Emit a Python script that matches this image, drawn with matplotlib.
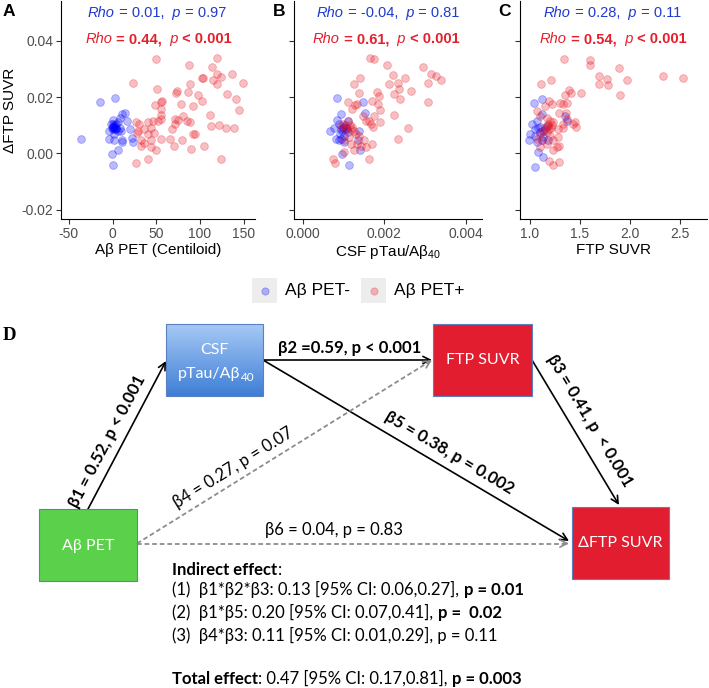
import matplotlib.pyplot as plt
import numpy as np
from matplotlib.colors import LinearSegmentedColormap
from matplotlib.patches import Rectangle

plt.rcParams["font.family"] = ["Liberation Sans", "DejaVu Sans"]
plt.rcParams["mathtext.fontset"] = "custom"
plt.rcParams["mathtext.rm"] = "Liberation Sans"
plt.rcParams["axes.unicode_minus"] = False

# ---- panel A: amyloid PET (centiloid) vs delta FTP SUVR ----
a_neg_x = [-14, 3, 14, 10.5, 16, 8, 0, -2, 2, 4, 6, 0, 8, -4, 2, 10, 20, -36, -4, 2,
           10.5, 11, 22, 23, 6.5, -0.5, 1, 4, 6.5, 1, 3, 2, 0, 4, 1, 3, -1]
a_neg_y = [0.0184, 0.0196, 0.0145, 0.0139, 0.0116, 0.0125, 0.0120, 0.0104, 0.0098, 0.0090,
           0.0081, 0.0087, 0.0090, 0.0081, 0.0069, 0.0078, 0.0087, 0.0050, 0.0052, 0.0048,
           0.0046, 0.0040, 0.0055, 0.0042, 0.0013, -0.0001, -0.0041, 0.0104, 0.0110, 0.0095,
           0.0100, 0.0092, 0.0094, 0.0085, 0.0106, 0.0088, 0.0091]
a_pos_x = [50, 120, 88, 114, 120, 137, 102, 104, 115, 124, 23, 89, 120, 149, 51, 74, 73, 86,
           98, 131, 102, 141, 49, 55, 57, 78, 92, 56, 145, 112, 56, 27, 30, 41, 46, 52, 55,
           72, 75, 81, 85, 89, 71, 68, 29, 36, 44, 113, 122, 130, 139, 28, 41, 47, 56, 92,
           94, 66, 80, 33, 36, 44, 33, 44, 50, 70, 90, 105, 27, 40, 124]
a_pos_y = [0.0336, 0.0338, 0.0315, 0.0307, 0.0280, 0.0280, 0.0268, 0.0266, 0.0262, 0.0270,
           0.0248, 0.0245, 0.0247, 0.0250, 0.0229, 0.0221, 0.0215, 0.0219, 0.0207, 0.0209,
           0.0186, 0.0194, 0.0171, 0.0183, 0.0186, 0.0177, 0.0168, 0.0157, 0.0153, 0.0135,
           0.0137, 0.0110, 0.0104, 0.0113, 0.0116, 0.0116, 0.0122, 0.0122, 0.0118, 0.0133,
           0.0116, 0.0113, 0.0104, 0.0087, 0.0081, 0.0087, 0.0090, 0.0098, 0.0102, 0.0092,
           0.0090, 0.0071, 0.0069, 0.0071, 0.0052, 0.0069, 0.0069, 0.0052, 0.0046, 0.0048,
           0.0036, 0.0046, 0.0025, 0.0022, 0.0011, 0.0027, 0.0016, 0.0025, -0.0034, -0.0020,
           -0.0020]

# ---- panel B: CSF pTau/Abeta40 vs delta FTP SUVR ----
b_neg_x = [0.00085, 0.00147, 0.00153, 0.00094, 0.00084, 0.00088, 0.00111, 0.00100, 0.00067,
           0.00077, 0.00081, 0.00094, 0.00102, 0.00106, 0.00097, 0.00110, 0.00139, 0.00136,
           0.00096, 0.00141, 0.00114, 0.00092, 0.00089, 0.00102, 0.00098, 0.00104, 0.00093,
           0.00108]
b_neg_y = [0.0198, 0.0184, 0.0145, 0.0139, 0.0118, 0.0104, 0.0116, 0.0090, 0.0078, 0.0090,
           0.0052, 0.0052, 0.0040, 0.0092, 0.0081, 0.0075, 0.0078, 0.0046, -0.0001, 0.0011,
           -0.0040, 0.0069, 0.0046, 0.0063, 0.0095, 0.0100, 0.0085, 0.0087]
b_pos_x = [0.00166, 0.00175, 0.00208, 0.00294, 0.00315, 0.00327, 0.00340, 0.00141, 0.00126,
           0.00221, 0.00252, 0.00212, 0.00234, 0.00308, 0.00139, 0.00182, 0.00188, 0.00223,
           0.00237, 0.00239, 0.00266, 0.00307, 0.00111, 0.00128, 0.00134, 0.00121, 0.00169,
           0.00184, 0.00190, 0.00225, 0.00175, 0.00147, 0.00155, 0.00163, 0.00167, 0.00190,
           0.00173, 0.00259, 0.00233, 0.00112, 0.00118, 0.00125, 0.00130, 0.00139, 0.00151,
           0.00155, 0.00170, 0.00143, 0.00118, 0.00102, 0.00114, 0.00094, 0.00100, 0.00075,
           0.00079, 0.00163, 0.00126, 0.00134, 0.00102, 0.00108, 0.00115, 0.00104, 0.00120]
b_pos_y = [0.0338, 0.0335, 0.0315, 0.0307, 0.0280, 0.0274, 0.0262, 0.0268, 0.0247, 0.0277,
           0.0268, 0.0245, 0.0250, 0.0249, 0.0215, 0.0219, 0.0204, 0.0209, 0.0229, 0.0194,
           0.0221, 0.0184, 0.0184, 0.0172, 0.0177, 0.0157, 0.0186, 0.0177, 0.0153, 0.0137,
           0.0133, 0.0133, 0.0116, 0.0116, 0.0106, 0.0111, 0.0095, 0.0090, 0.0050, 0.0116,
           0.0087, 0.0078, 0.0069, 0.0063, 0.0046, 0.0022, 0.0032, 0.0025, 0.0032, 0.0046,
           0.0057, 0.0098, 0.0106, -0.0019, -0.0034, -0.0020, 0.0011, 0.0032, 0.0005, 0.0092,
           0.0100, 0.0085, 0.0095]

# ---- panel C: FTP SUVR vs delta FTP SUVR ----
c_neg_x = [1.04, 1.12, 1.12, 1.07, 1.02, 1.05, 1.00, 1.05, 1.10, 1.15, 0.99, 1.07, 1.12,
           1.08, 1.13, 1.05, 1.35, 1.37, 1.17, 1.13, 1.18, 1.10, 1.13, 1.08]
c_neg_y = [0.0180, 0.0192, 0.0139, 0.0116, 0.0104, 0.0087, 0.0069, 0.0063, 0.0075, 0.0087,
           0.0046, 0.0040, 0.0046, 0.0005, -0.0011, -0.0048, 0.0133, 0.0116, 0.0098, 0.0057,
           0.0046, 0.0095, 0.0080, 0.0090]
c_pos_x = [1.34, 1.60, 1.60, 1.89, 1.69, 1.77, 1.69, 1.78, 1.97, 2.33, 2.53, 1.11, 1.21,
           1.39, 1.41, 1.35, 1.51, 1.90, 1.33, 1.19, 1.22, 1.15, 1.30, 1.37, 1.07, 1.10,
           1.29, 1.36, 1.17, 1.20, 1.23, 1.18, 1.33, 1.43, 1.46, 1.33, 1.28, 1.13, 1.17,
           1.10, 1.20, 1.28, 1.07, 1.12, 1.23, 1.17, 1.10, 1.27, 1.23, 1.29, 1.19, 1.23,
           1.29, 1.37, 1.45, 1.18, 1.21, 1.15, 1.22, 1.19]
c_pos_y = [0.0336, 0.0332, 0.0312, 0.0303, 0.0275, 0.0264, 0.0247, 0.0242, 0.0259, 0.0276,
           0.0268, 0.0245, 0.0262, 0.0224, 0.0215, 0.0207, 0.0213, 0.0206, 0.0177, 0.0186,
           0.0177, 0.0168, 0.0180, 0.0180, 0.0151, 0.0133, 0.0145, 0.0145, 0.0127, 0.0116,
           0.0110, 0.0104, 0.0106, 0.0104, 0.0095, 0.0092, 0.0087, 0.0081, 0.0075, 0.0069,
           0.0063, 0.0057, 0.0052, 0.0046, 0.0046, 0.0034, 0.0022, 0.0022, 0.0011, 0.0025,
           -0.0027, -0.0042, -0.0031, 0.0122, 0.0110, 0.0098, 0.0090, 0.0095, 0.0100, 0.0085]

y_ticks = [-0.02, 0.00, 0.02, 0.04]
y_ticklabels = ["-0.02", "0.00", "0.02", "0.04"]
a_ticks = [-50, 0, 50, 100, 150]
b_ticks = [0.000, 0.002, 0.004]
b_ticklabels = ["0.000", "0.002", "0.004"]
c_ticks = [1.0, 1.5, 2.0, 2.5]
c_ticklabels = ["1.0", "1.5", "2.0", "2.5"]

rho_neg = [("0.01", "= 0.97"), ("-0.04", "= 0.81"), ("0.28", "= 0.11")]
rho_pos = [("0.44", "< 0.001"), ("0.61", "< 0.001"), ("0.54", "< 0.001")]

NEG_FC = (0, 0, 1, 0.27)
POS_FC = (0.9, 0.08, 0.12, 0.27)
TXT_BLUE = "#1f3ad0"
TXT_RED = "#e3202b"
W, H = 709, 688

fig = plt.figure(figsize=(W / 100, H / 100), dpi=100)

# full-figure overlay in pixel units for labels, legend and the path diagram
dax = fig.add_axes([0, 0, 1, 1])
dax.set_axis_off()


def px_rect(x0, x1, y0, y1):
    return [x0 / W, 1 - y1 / H, (x1 - x0) / W, (y1 - y0) / H]


def chain(ax, x, y, pieces, transform, **kw):
    # consecutive text pieces with their own style / weight on one line
    prev = None
    for txt, style, weight in pieces:
        if prev is None:
            prev = ax.text(x, y, txt, transform=transform, ha="left", va="bottom",
                           style=style, weight=weight, **kw)
        else:
            prev = ax.annotate(txt, xy=(1, 0), xycoords=prev, ha="left", va="bottom",
                               style=style, weight=weight, annotation_clip=False, **kw)
    return prev


panels = [
    (px_rect(61, 255, 1, 219), a_neg_x, a_neg_y, a_pos_x, a_pos_y, (-59, 163),
     a_ticks, [str(t) for t in a_ticks], "Aβ PET (Centiloid)", 0.139, 0.124),
    (px_rect(294, 482, 1, 219), b_neg_x, b_neg_y, b_pos_x, b_pos_y, (-0.000214, 0.0044),
     b_ticks, b_ticklabels, "CSF pTau/Aβ$_{40}$", 0.121, 0.101),
    (px_rect(520, 707, 1, 219), c_neg_x, c_neg_y, c_pos_x, c_pos_y, (0.90, 2.77),
     c_ticks, c_ticklabels, "FTP SUVR", 0.128, 0.107),
]

for i, (rect, nx, ny, px, py, xlim, xt, xtl, xlab, bx, rx) in enumerate(panels):
    ax = fig.add_axes(rect)
    ax.scatter(nx, ny, s=31, facecolor=NEG_FC, edgecolor=NEG_FC[:3] + (0.3,), linewidth=0.6)
    ax.scatter(px, py, s=31, facecolor=POS_FC, edgecolor=POS_FC[:3] + (0.3,), linewidth=0.6)
    ax.set_xlim(*xlim)
    ax.set_ylim(-0.0232, 0.054)
    ax.set_xticks(xt)
    ax.set_xticklabels(xtl)
    ax.set_yticks(y_ticks)
    ax.set_yticklabels(y_ticklabels if i == 0 else [])
    for s in ("top", "right"):
        ax.spines[s].set_visible(False)
    for s in ("left", "bottom"):
        ax.spines[s].set_linewidth(0.8)
    ax.tick_params(length=3.5, width=0.8, color="#333333", labelcolor="#4d4d4d",
                   labelsize=10, pad=2)
    ax.set_xlabel(xlab, fontsize=11, labelpad=2)
    if i == 0:
        ax.set_ylabel("ΔFTP SUVR", fontsize=11, labelpad=3)
    rn, pn = rho_neg[i]
    chain(ax, bx, 0.914, [("Rho", "italic", "normal"), (" = " + rn + ",", "normal", "normal"),
                          ("  p", "italic", "normal"), (" " + pn, "normal", "normal")],
          ax.transAxes, color=TXT_BLUE, fontsize=10.5)
    rp, pp = rho_pos[i]
    chain(ax, rx, 0.792, [("Rho", "italic", "normal"), (" = " + rp + ",", "normal", "bold"),
                          ("  p", "italic", "normal"), (" " + pp, "normal", "bold")],
          ax.transAxes, color=TXT_RED, fontsize=10.5)

# panel letters
for lab, x in (("A", 3), ("B", 273), ("C", 498)):
    dax.text(x, 11, lab, fontsize=12.5, weight="bold", ha="left", va="center")
dax.text(3, 335, "D", fontsize=13.5, weight="bold", family="Liberation Serif",
         ha="left", va="center")

# legend
for x0, fc, lab in ((252, NEG_FC, "Aβ PET-"), (361, POS_FC, "Aβ PET+")):
    dax.add_patch(Rectangle((x0, 278), 25, 25, facecolor="#ededed", edgecolor="none"))
    dax.scatter([x0 + 12.5], [290.5], s=27, facecolor=fc, edgecolor=fc[:3] + (0.3,), linewidth=0.6)
    dax.text(x0 + 33, 290.5, lab, fontsize=12.5, ha="left", va="center")

# ---- path diagram ----
DFONT = ["Lato", "DejaVu Sans"]
EDGE = "#5b7fbf"

csf_cmap = LinearSegmentedColormap.from_list("csf", ["#a6c9f6", "#3f7ed6"])
grad = np.linspace(0, 1, 100).reshape(-1, 1)
dax.imshow(grad, extent=(166, 263, 396, 324), cmap=csf_cmap, aspect="auto", zorder=2)
dax.add_patch(Rectangle((166, 324), 97, 72, facecolor="none", edgecolor=EDGE, lw=0.8, zorder=3))
dax.add_patch(Rectangle((433, 324), 99, 72, facecolor="#e11d2f", edgecolor=EDGE, lw=0.8, zorder=3))
dax.add_patch(Rectangle((39, 509), 98, 72, facecolor="#5bd14b", edgecolor=EDGE, lw=0.8, zorder=3))
dax.add_patch(Rectangle((572, 507), 97, 72, facecolor="#e11d2f", edgecolor=EDGE, lw=0.8, zorder=3))

box_kw = dict(color="white", fontsize=11.5, family=DFONT, ha="center", va="center", zorder=4)
dax.text(214.5, 350.5, "CSF", **box_kw)
main = dax.text(209, 374, "pTau/Aβ", **box_kw)
dax.annotate("40", xy=(1, 0), xycoords=main, xytext=(0.3, -1.5), textcoords="offset points",
             color="white", fontsize=8.5, family=DFONT, ha="left", va="bottom", zorder=4)
dax.text(482.5, 360, "FTP SUVR", **box_kw)
dax.text(88, 546, "Aβ PET", **box_kw)
dax.text(620.5, 543, "ΔFTP SUVR", **box_kw)


def arrow(p0, p1, dashed=False):
    color = "#8c8c8c" if dashed else "black"
    props = dict(arrowstyle="->", color=color, lw=1.2, shrinkA=0, shrinkB=0, mutation_scale=13)
    if dashed:
        dax.plot([p0[0], p1[0]], [p0[1], p1[1]], color=color, lw=1.3,
                 ls=(0, (2.6, 1.6)), zorder=1)
        d = np.subtract(p1, p0)
        d = d / np.hypot(*d)
        p0 = (p1[0] - 6 * d[0], p1[1] - 6 * d[1])
    dax.annotate("", xy=p1, xytext=p0, arrowprops=props, zorder=1)


arrow((88, 509), (166, 361))
arrow((263, 360), (432, 360))
arrow((532, 360), (619, 505))
arrow((263, 360), (569, 541))
arrow((137, 543.5), (432, 360), dashed=True)
arrow((137, 543.5), (569, 543.5), dashed=True)

lab_kw = dict(fontsize=12, family=DFONT, ha="center", va="center", rotation_mode="anchor")
dax.text(107.5, 441, "β1 = 0.52, p < 0.001", weight="bold", rotation=62.2, **lab_kw)
dax.text(349.7, 348, "β2 =0.59, p < 0.001", weight="bold", **lab_kw)
dax.text(590, 421, "β3 = 0.41, p  < 0.001", weight="bold", rotation=-59, **lab_kw)
dax.text(449, 453, "β5 = 0.38, p = 0.002", weight="bold", rotation=-30.7, **lab_kw)
dax.text(233, 468, "β4 = 0.27, p = 0.07", rotation=31.9, **lab_kw)
dax.text(334, 530, "β6 = 0.04, p = 0.83", **lab_kw)

# effect summary
txt_kw = dict(fontsize=12, family=DFONT)
tr = dax.transData
lines = [
    (569.3, [("Indirect effect", "normal", "bold"), (":", "normal", "normal")]),
    (590.0, [("(1)  β1*β2*β3: 0.13 [95% CI: 0.06,0.27],", "normal", "normal"),
             (" p = 0.01", "normal", "bold")]),
    (612.7, [("(2)  β1*β5: 0.20 [95% CI: 0.07,0.41],", "normal", "normal"),
             (" p =  0.02", "normal", "bold")]),
    (635.0, [("(3)  β4*β3: 0.11 [95% CI: 0.01,0.29], p = 0.11", "normal", "normal")]),
    (678.3, [("Total effect", "normal", "bold"), (": 0.47 [95% CI: 0.17,0.81],", "normal", "normal"),
             (" p = 0.003", "normal", "bold")]),
]
for y, pieces in lines:
    chain(dax, 172.5, y + 8.5, pieces, tr, **txt_kw)

dax.set_xlim(0, W)
dax.set_ylim(H, 0)

fig.savefig("out.png", dpi=100)
